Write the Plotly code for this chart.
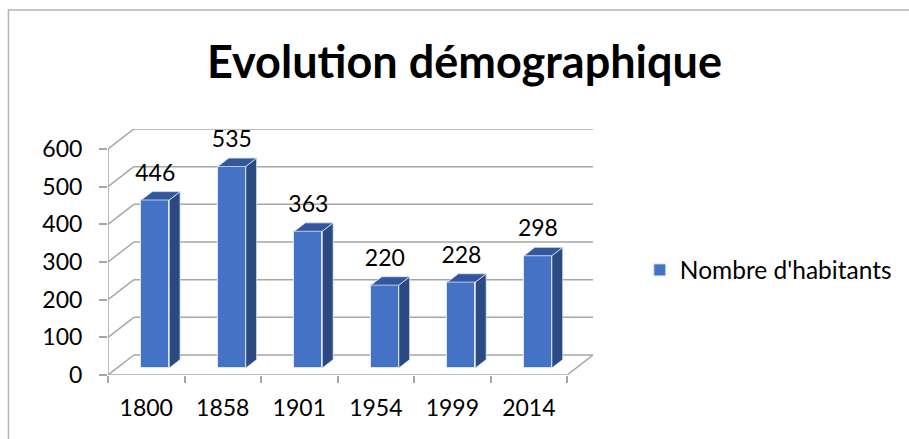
import plotly.graph_objects as go

# ---- data ----
years = ["1800", "1858", "1901", "1954", "1999", "2014"]
habitants = [446, 535, 363, 220, 228, 298]
y_ticks = [0, 100, 200, 300, 400, 500, 600]
series_name = "Nombre d'habitants"
title_text = "Evolution démographique"

# ---- pseudo-3D projection parameters (style) ----
DXC = 0.338      # full depth shift in category units
DYV = 53.1       # full depth shift in value units
D0 = 0.35        # depth of bar front face
DD = 0.42        # bar depth
BW = 0.364       # bar width
GRID = "#a6a6a6"
FRONT = "#4472C4"
SIDE = "#2B4A82"
TOP = "#33579C"
FONT = "Lato"

n = len(years)
idx = list(range(n))
xl, xr = -0.5, n - 0.5
base = D0 * DYV
xc = [i + D0 * DXC for i in idx]

fig = go.Figure()

# front faces of bars (real bar trace)
fig.add_trace(go.Bar(
    x=xc, y=habitants, base=[base] * n, width=BW,
    marker=dict(color=FRONT, line=dict(color="#dce6f4", width=1)),
    name=series_name, showlegend=True, hoverinfo="skip",
))

# side & top faces computed from the data
ddx, ddy = DD * DXC, DD * DYV
sx, sy, tx, ty = [], [], [], []
for c, v in zip(xc, habitants):
    l, r = c - BW / 2, c + BW / 2
    top = base + v
    sx += [r, r + ddx, r + ddx, r, r, None]
    sy += [base, base + ddy, top + ddy, top, base, None]
    tx += [l, r, r + ddx, l + ddx, l, None]
    ty += [top, top, top + ddy, top + ddy, top, None]
fig.add_trace(go.Scatter(x=sx, y=sy, fill="toself", fillcolor=SIDE, mode="lines",
                         line=dict(color="#dce6f4", width=0.8), showlegend=False,
                         hoverinfo="skip"))
fig.add_trace(go.Scatter(x=tx, y=ty, fill="toself", fillcolor=TOP, mode="lines",
                         line=dict(color="#dce6f4", width=0.8), showlegend=False,
                         hoverinfo="skip"))

# data labels
fig.add_trace(go.Scatter(
    x=xc, y=[base + v + 67 for v in habitants], mode="text",
    text=[str(v) for v in habitants], textposition="middle center",
    textfont=dict(family=FONT, size=23, color="#000000"),
    showlegend=False, hoverinfo="skip",
))

# walls, floor and axis lines (drawn below the bars)
shapes = []
line = dict(color=GRID, width=1.5)
for t in y_ticks:
    shapes.append(dict(type="line", xref="x", yref="y", layer="below",
                       x0=xl + DXC, x1=xr + DXC, y0=t + DYV, y1=t + DYV, line=line))
    shapes.append(dict(type="line", xref="x", yref="y", layer="below",
                       x0=xl, x1=xl + DXC, y0=t, y1=t + DYV, line=line))
shapes.append(dict(type="line", xref="x", yref="y", layer="below",
                   x0=xl, x1=xr, y0=0, y1=0, line=line))
shapes.append(dict(type="line", xref="x", yref="y", layer="below",
                   x0=xr, x1=xr + DXC, y0=0, y1=DYV, line=line))
shapes.append(dict(type="line", xref="x", yref="y", layer="below",
                   x0=xl, x1=xl, y0=0, y1=y_ticks[-1], line=line))
# outer chart border
shapes.append(dict(type="rect", xref="paper", yref="paper", layer="below",
                   x0=-0.2053, x1=2.0, y0=-1.0, y1=1.4837,
                   line=dict(color="#b4b4b4", width=1.5), fillcolor="rgba(0,0,0,0)"))

fig.update_layout(
    width=909, height=439,
    margin=dict(l=108, r=314, t=129, b=64),
    paper_bgcolor="white", plot_bgcolor="rgba(0,0,0,0)",
    shapes=shapes,
    title=dict(text="<b>" + title_text + "</b>", x=0.511, xanchor="center",
               y=0.858, yanchor="middle",
               font=dict(family=FONT, size=45, color="#000000")),
    legend=dict(x=1.0965, y=0.427, xanchor="left", yanchor="middle",
                font=dict(family=FONT, size=24.5, color="#000000"),
                bgcolor="rgba(0,0,0,0)"),
    xaxis=dict(range=[xl, xr + DXC], tickvals=idx, ticktext=years, ticks="",
               showgrid=False, zeroline=False, showline=False,
               tickfont=dict(family=FONT, size=23, color="#000000"),
               ticklabelstandoff=17,
               minor=dict(tickvals=[i - 0.5 for i in range(n + 1)], ticks="outside",
                          ticklen=7, tickcolor=GRID, tickwidth=1.5, showgrid=False)),
    yaxis=dict(range=[0, y_ticks[-1] + DYV], tickvals=y_ticks, ticks="outside",
               ticklen=8, tickcolor=GRID, tickwidth=1.5,
               showgrid=False, zeroline=False, showline=False,
               tickfont=dict(family=FONT, size=23, color="#000000"),
               ticklabelstandoff=12),
    bargap=0,
)

fig.write_html("out.html", config={"displayModeBar": False},
               post_script="document.body.style.margin='0';document.body.style.overflow='hidden';")
